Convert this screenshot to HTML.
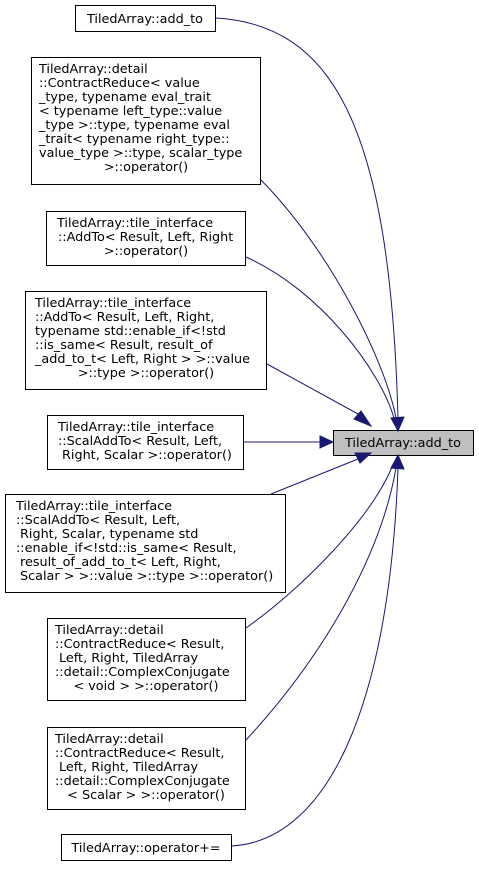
<!DOCTYPE html>
<html><head><style>body{margin:0;background:#fff}</style></head><body>
<svg width="479" height="869" viewBox="0 0 479 869" xmlns="http://www.w3.org/2000/svg" font-family="DejaVu Sans, Liberation Sans, sans-serif" font-size="12.8">
<g fill="#fff" stroke="#000" stroke-width="1">
<rect x="75.5" y="5.5" width="140" height="26"/>
<rect x="31.5" y="57.5" width="229" height="127"/>
<rect x="46.5" y="211.5" width="199" height="54"/>
<rect x="25.5" y="291.5" width="241" height="98"/>
<rect x="47.5" y="415.5" width="196" height="54"/>
<rect x="5.5" y="494.5" width="280" height="98"/>
<rect x="47.5" y="618.5" width="198" height="82"/>
<rect x="47.5" y="727.5" width="198" height="82"/>
<rect x="61.5" y="834.5" width="170" height="26"/>
<rect x="333.5" y="430.5" width="140" height="25" fill="#bfbfbf"/>
</g>
<g fill="none" stroke="#191970" stroke-width="1">
<path d="M216,18 C330,25 390,120 398,418"/>
<path d="M261,180 C330,250 385,360 396,418"/>
<path d="M246,257 C320,290 380,370 394,418"/>
<path d="M267,364 L358,414"/>
<path d="M244,442 L320,442"/>
<path d="M271,494 L358,459"/>
<path d="M246,628 C300,590 370,520 392,467"/>
<path d="M246,740 C320,660 380,560 396,468"/>
<path d="M232,846 C330,840 390,700 398,468"/>
</g>
<g fill="#191970" stroke="#191970">
<polygon points="391,418 398,431 404,417"/>
<polygon points="354,419 371,426 361,411"/>
<polygon points="320,436 333,442 320,448"/>
<polygon points="355,453 371,453 360,463"/>
<polygon points="391,468 398,455 404,469"/>
</g>
<g fill="#000">
<text x="145" y="23" text-anchor="middle">TiledArray::add_to</text>
<text x="403" y="447" text-anchor="middle">TiledArray::add_to</text>
<text x="39" y="73">TiledArray::detail</text>
<text x="39" y="87">::ContractReduce&lt; value</text>
<text x="39" y="101">_type, typename eval_trait</text>
<text x="39" y="115">&lt; typename left_type::value</text>
<text x="39" y="129">_type &gt;::type, typename eval</text>
<text x="39" y="143">_trait&lt; typename right_type::</text>
<text x="39" y="157">value_type &gt;::type, scalar_type</text>
<text x="146" y="171" text-anchor="middle">&gt;::operator()</text>
<text x="57" y="227">TiledArray::tile_interface</text>
<text x="58" y="241">::AddTo&lt; Result, Left, Right</text>
<text x="146" y="255" text-anchor="middle">&gt;::operator()</text>
<text x="35" y="307">TiledArray::tile_interface</text>
<text x="35" y="321">::AddTo&lt; Result, Left, Right,</text>
<text x="35" y="335"> typename std::enable_if&lt;!std</text>
<text x="35" y="349">::is_same&lt; Result, result_of</text>
<text x="35" y="363">_add_to_t&lt; Left, Right &gt; &gt;::value</text>
<text x="146" y="377" text-anchor="middle">&gt;::type &gt;::operator()</text>
<text x="58" y="431">TiledArray::tile_interface</text>
<text x="58" y="445">::ScalAddTo&lt; Result, Left,</text>
<text x="62" y="459">Right, Scalar &gt;::operator()</text>
<text x="16" y="510">TiledArray::tile_interface</text>
<text x="16" y="524">::ScalAddTo&lt; Result, Left,</text>
<text x="20" y="538">Right, Scalar, typename std</text>
<text x="16" y="552">::enable_if&lt;!std::is_same&lt; Result,</text>
<text x="20" y="566">result_of_add_to_t&lt; Left, Right,</text>
<text x="20" y="580">Scalar &gt; &gt;::value &gt;::type &gt;::operator()</text>
<text x="55" y="634">TiledArray::detail</text>
<text x="55" y="648">::ContractReduce&lt; Result,</text>
<text x="59" y="662">Left, Right, TiledArray</text>
<text x="55" y="676">::detail::ComplexConjugate</text>
<text x="146" y="690" text-anchor="middle">&lt; void &gt; &gt;::operator()</text>
<text x="55" y="743">TiledArray::detail</text>
<text x="55" y="757">::ContractReduce&lt; Result,</text>
<text x="59" y="771">Left, Right, TiledArray</text>
<text x="55" y="785">::detail::ComplexConjugate</text>
<text x="146" y="799" text-anchor="middle">&lt; Scalar &gt; &gt;::operator()</text>
<text x="146" y="852" text-anchor="middle">TiledArray::operator+=</text>
</g>
</svg>
</body></html>
